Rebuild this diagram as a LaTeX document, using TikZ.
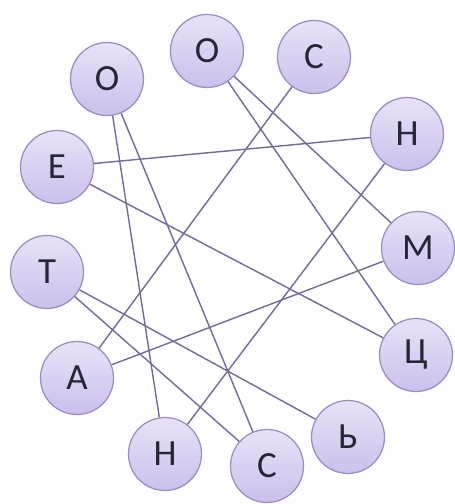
\documentclass[tikz,border=0pt]{standalone}
\usepackage{fontspec}
\setmainfont{Carlito}
\usepackage{xcolor}
\definecolor{ringline}{HTML}{9A8CC2}
\definecolor{edgeline}{HTML}{76689A}
\definecolor{fillhi}{HTML}{E8E2F8}
\definecolor{filllo}{HTML}{CBC0EB}
\definecolor{letter}{HTML}{262636}

\begin{document}
\begin{tikzpicture}[x=0.02cm,y=-0.02cm,
  letterbox/.style={circle,draw=ringline,line width=0.7pt,top color=fillhi,bottom color=filllo,
    minimum size=1.46cm,inner sep=0pt,text=letter,font=\fontsize{21}{21}\selectfont},
  link/.style={draw=edgeline,line width=0.8pt}]
\useasboundingbox (0,0) rectangle (455,504);
\node[letterbox] (o1) at (107,79) {О};
\node[letterbox] (o2) at (207,51) {О};
\node[letterbox] (s1) at (314,57) {С};
\node[letterbox] (n1) at (407,134) {Н};
\node[letterbox] (e) at (57,167) {Е};
\node[letterbox] (m) at (418,248) {М};
\node[letterbox] (t) at (47,272) {Т};
\node[letterbox] (ts) at (416,355) {Ц};
\node[letterbox] (a) at (77,378) {А};
\node[letterbox] (mz) at (348,437) {Ь};
\node[letterbox] (n2) at (165,454) {Н};
\node[letterbox] (s2) at (267,466) {С};
% connectors
\draw[link] (o1) -- (n2);
\draw[link] (o1) -- (s2);
\draw[link] (o2) -- (m);
\draw[link] (o2) -- (ts);
\draw[link] (s1) -- (a);
\draw[link] (n1) -- (e);
\draw[link] (n1) -- (n2);
\draw[link] (e) -- (ts);
\draw[link] (a) -- (m);
\draw[link] (t) -- (s2);
\draw[link] (t) -- (mz);
\end{tikzpicture}
\end{document}
